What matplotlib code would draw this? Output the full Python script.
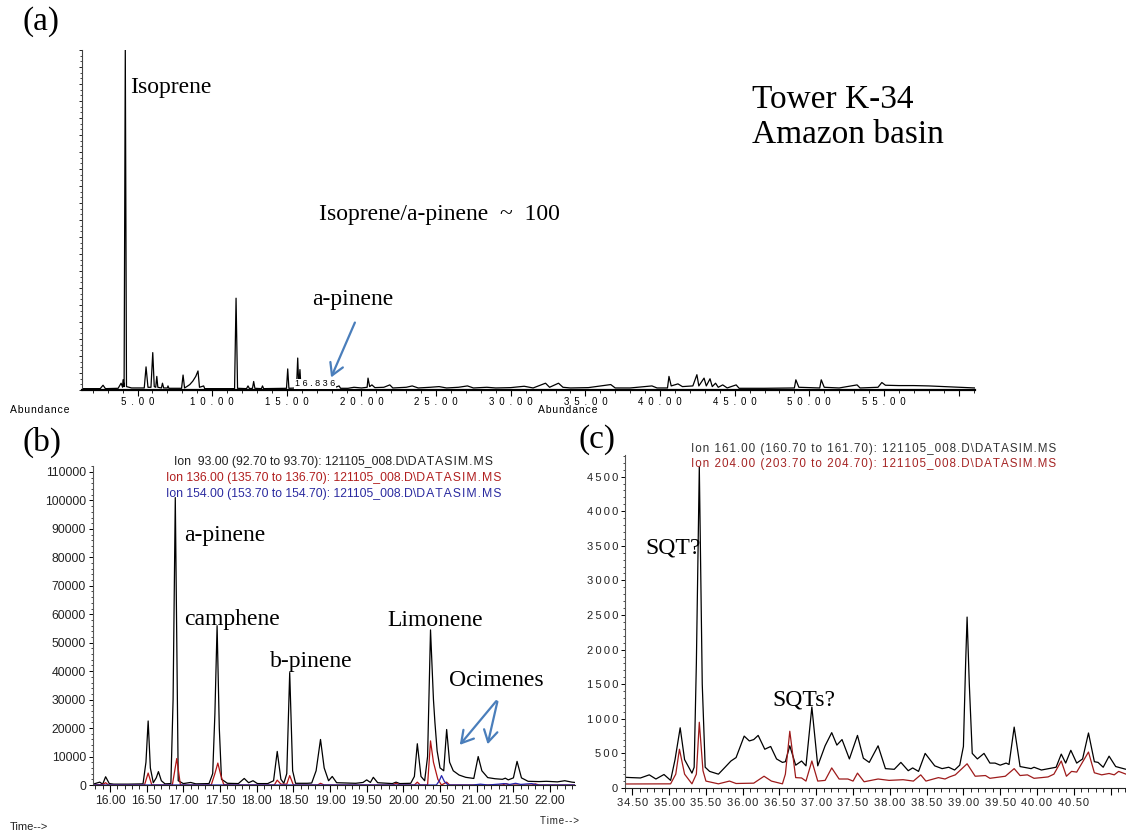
import matplotlib
matplotlib.use('Agg')
import matplotlib.pyplot as plt
from matplotlib import font_manager
from matplotlib.ticker import MultipleLocator, FuncFormatter
from matplotlib.patches import FancyArrowPatch

# ---- data ----
# (a) total ion chromatogram, abundance relative to the isoprene peak
a_time = [1.28, 2.5, 2.69, 2.85, 3.7, 3.9, 4.0, 4.03, 4.1, 4.18, 4.26, 4.6, 5.45, 5.57, 5.7,
          5.9, 6.02, 6.12, 6.22, 6.29, 6.36, 6.6, 6.67, 6.75, 7.0, 7.04, 7.1, 7.95, 8.05, 8.15,
          8.3, 8.5, 8.7, 8.9, 9.05, 9.15, 9.43, 9.5, 11.5, 11.6, 11.7, 12.3, 12.4, 12.5, 12.7,
          12.78, 12.86, 13.3, 13.37, 13.45, 14.98, 15.06, 15.14, 15.65, 15.73, 15.8, 15.88, 15.95,
          16.84, 16.9, 17.5, 17.6, 17.7, 18.2, 18.5, 18.6, 19.1, 19.5, 20.0, 20.38, 20.44, 20.55,
          20.7, 20.9, 21.5, 21.9, 22.1, 23.0, 23.4, 23.8, 24.6, 25.2, 25.7, 26.5, 27.1, 27.5,
          28.4, 29.0, 30.0, 30.9, 31.5, 32.33, 32.6, 33.2, 33.5, 34.0, 35.2, 36.7, 37.0, 38.0,
          39.46, 39.8, 40.5, 40.6, 40.75, 41.2, 41.5, 42.2, 42.47, 42.6, 42.95, 43.1, 43.35, 43.5,
          43.72, 43.9, 44.2, 44.5, 45.1, 45.3, 47.0, 49.0, 49.1, 49.3, 50.7, 50.8, 51.0, 52.0,
          53.2, 53.4, 54.6, 54.86, 55.1, 56.0, 57.0, 58.0, 59.0, 60.0, 61.1]
a_abund = [0.004, 0.004, 0.014, 0.004, 0.005, 0.02, 0.008, 0.03, 0.01, 1.0, 0.01, 0.006, 0.006, 0.068, 0.008,
           0.008, 0.11, 0.01, 0.008, 0.04, 0.008, 0.006, 0.02, 0.006, 0.006, 0.012, 0.005, 0.005, 0.044, 0.006,
           0.01, 0.016, 0.026, 0.04, 0.056, 0.008, 0.012, 0.004, 0.004, 0.27, 0.005, 0.004, 0.012, 0.004, 0.005,
           0.025, 0.005, 0.004, 0.012, 0.004, 0.005, 0.062, 0.005, 0.006, 0.094, 0.01, 0.06, 0.006,
           0.012, 0.005, 0.006, 0.01, 0.005, 0.007, 0.012, 0.005, 0.005, 0.008, 0.006, 0.008, 0.035, 0.01,
           0.015, 0.007, 0.008, 0.015, 0.006, 0.008, 0.012, 0.006, 0.008, 0.01, 0.006, 0.008, 0.012, 0.006,
           0.008, 0.006, 0.007, 0.011, 0.006, 0.02, 0.008, 0.02, 0.008, 0.006, 0.007, 0.016, 0.006, 0.006,
           0.012, 0.006, 0.006, 0.04, 0.012, 0.018, 0.01, 0.012, 0.045, 0.012, 0.035, 0.012, 0.033, 0.01,
           0.02, 0.008, 0.015, 0.006, 0.015, 0.005, 0.005, 0.006, 0.03, 0.008, 0.006, 0.03, 0.008, 0.006,
           0.015, 0.006, 0.008, 0.022, 0.014, 0.013, 0.013, 0.012, 0.01, 0.008, 0.006]

# (b) extracted ion chromatograms, monoterpene window
b_ion93_time = [15.77, 15.86, 15.90, 15.94, 15.99, 16.05, 16.25, 16.45, 16.49, 16.52, 16.55, 16.59, 16.63,
                16.66, 16.70, 16.75, 16.83, 16.86, 16.89, 16.93, 17.00, 17.10, 17.17, 17.35, 17.40, 17.43,
                17.46, 17.49, 17.52, 17.55, 17.60, 17.75, 17.83, 17.89, 17.95, 18.01, 18.15, 18.23, 18.28,
                18.33, 18.37, 18.41, 18.45, 18.49, 18.53, 18.69, 18.75, 18.81, 18.87, 18.92, 18.98, 19.03,
                19.09, 19.35, 19.45, 19.50, 19.55, 19.59, 19.65, 19.85, 19.90, 19.95, 20.10, 20.15, 20.19, 20.24,
                20.29, 20.33, 20.37, 20.41, 20.43, 20.46, 20.50, 20.55, 20.59, 20.63, 20.68, 20.76, 20.85,
                20.96, 21.02, 21.07, 21.15, 21.25, 21.35, 21.39, 21.43, 21.50, 21.55, 21.61, 21.70, 21.85,
                21.95, 22.10, 22.20, 22.30, 22.34]
b_ion93 = [300, 1000, 300, 2900, 500, 300, 300, 400, 8000, 22500, 6000, 800, 2500,
           4700, 1500, 400, 500, 30000, 101000, 1500, 500, 900, 400, 500, 4000, 25000,
           56000, 20000, 2000, 1500, 600, 500, 2300, 800, 1500, 500, 500, 1500, 11800,
           2000, 600, 4000, 39500, 5000, 600, 600, 700, 5000, 16000, 6000, 1500, 3000,
           800, 600, 900, 1800, 900, 2700, 800, 500, 1000, 500, 600, 3000, 14500, 3000,
           1500, 10000, 54500, 30000, 22000, 12000, 6000, 5000, 19500, 8000, 5000, 3500, 2700,
           2300, 10000, 5000, 2600, 2200, 2000, 2400, 1800, 2500, 8300, 2500, 1300, 1200,
           1300, 1100, 1500, 1000, 900]

b_ion136_time = [15.77, 15.90, 15.94, 15.98, 16.47, 16.52, 16.57, 16.85, 16.91, 16.96, 17.38, 17.43,
                 17.47, 17.51, 17.55, 17.65, 18.24, 18.28, 18.33, 18.41, 18.45, 18.50, 18.83, 18.87,
                 18.92, 19.85, 19.90, 19.95, 20.15, 20.19, 20.23, 20.33, 20.37, 20.41, 20.43, 20.47,
                 20.52, 20.59, 20.63, 21.35, 21.40, 21.45, 21.75, 21.80, 21.85, 22.34]
b_ion136 = [0, 200, 800, 0, 0, 4200, 0, 0, 9300, 0, 0, 4000,
            7700, 3500, 200, 0, 0, 1700, 300, 300, 3300, 0, 0, 600,
            0, 0, 600, 0, 0, 1000, 0, 0, 15500, 8000, 6000, 2000,
            0, 1000, 0, 0, 500, 0, 0, 400, 0, 0]

b_ion154_time = [15.77, 20.45, 20.49, 20.52, 20.56, 20.61, 20.95, 21.05, 21.15, 21.30, 21.37, 21.45,
                 21.53, 21.60, 21.75, 21.83, 22.34]
b_ion154 = [0, 0, 1500, 3300, 1200, 0, 0, 300, 0, 300, 500, 200,
            600, 200, 500, 0, 0]

# (c) extracted ion chromatograms, sesquiterpene window
c_ion161_time = [34.39, 34.49, 34.61, 34.73, 34.82, 34.93, 35.02, 35.08, 35.15, 35.21, 35.31, 35.34,
                 35.37, 35.41, 35.45, 35.49, 35.55, 35.67, 35.76, 35.84, 35.91, 36.02, 36.09, 36.15,
                 36.21, 36.3, 36.38, 36.46, 36.54, 36.58, 36.64, 36.72, 36.8, 36.86, 36.94, 37.02,
                 37.12, 37.21, 37.28, 37.35, 37.45, 37.56, 37.64, 37.72, 37.84, 37.94, 38.06, 38.15,
                 38.25, 38.31, 38.39, 38.48, 38.61, 38.71, 38.8, 38.88, 38.95, 39.0, 39.03, 39.05,
                 39.08, 39.12, 39.19, 39.28, 39.36, 39.43, 39.5, 39.58, 39.62, 39.69, 39.77, 39.92,
                 39.96, 40.06, 40.21, 40.26, 40.33, 40.39, 40.46, 40.54, 40.62, 40.7, 40.78, 40.83,
                 40.9, 40.98, 41.07, 41.21]
c_ion161 = [155, 150, 145, 190, 130, 195, 110, 410, 870, 410, 215, 300,
            1800, 4640, 1500, 300, 240, 200, 300, 390, 440, 750, 680, 700,
            760, 560, 600, 420, 370, 380, 610, 330, 390, 320, 1170, 320,
            610, 800, 620, 700, 420, 760, 430, 370, 610, 280, 270, 370,
            250, 290, 240, 500, 320, 280, 300, 260, 330, 600, 1800, 2470,
            1500, 500, 420, 500, 360, 360, 330, 360, 340, 880, 310, 280,
            300, 260, 290, 300, 490, 360, 545, 360, 420, 795, 380, 370,
            300, 460, 310, 270]

c_ion204_time = [34.39, 35.02, 35.09, 35.14, 35.21, 35.31, 35.37, 35.41, 35.46, 35.5, 35.67, 35.82,
                 35.91, 36.15, 36.29, 36.39, 36.54, 36.58, 36.64, 36.72, 36.8, 36.86, 36.94, 37.02,
                 37.12, 37.21, 37.31, 37.43, 37.5, 37.56, 37.65, 37.84, 37.99, 38.18, 38.32, 38.42,
                 38.49, 38.66, 38.75, 38.81, 38.89, 39.05, 39.16, 39.3, 39.36, 39.5, 39.57, 39.69,
                 39.77, 39.87, 39.96, 40.06, 40.15, 40.23, 40.33, 40.4, 40.47, 40.54, 40.7, 40.78,
                 40.88, 40.98, 41.05, 41.11, 41.21]
c_ion204 = [58, 60, 200, 560, 200, 60, 200, 950, 250, 100, 60, 100,
            65, 70, 170, 100, 60, 200, 820, 150, 145, 100, 390, 100,
            110, 290, 130, 130, 100, 215, 90, 130, 110, 120, 100, 190,
            100, 150, 130, 160, 190, 350, 170, 180, 140, 160, 170, 280,
            180, 190, 140, 150, 160, 200, 390, 170, 240, 230, 520, 220,
            190, 210, 190, 240, 200]

# ---- fonts ----
names = {f.name for f in font_manager.fontManager.ttflist}
NARROW = 'Liberation Sans Narrow' if 'Liberation Sans Narrow' in names else 'Liberation Sans'
SANS = ['Liberation Sans', 'DejaVu Sans']
NAR = [NARROW, 'DejaVu Sans']
SERIF = 'Liberation Serif'
HAIR = '\u200a'


def spaced(s, sep=HAIR):
    return sep.join(s)


W, H = 1126, 835
fig = plt.figure(figsize=(W / 100, H / 100), dpi=100)


def fx(x):
    return x / W


def fy(y):
    return 1 - y / H


def box(left, right, top, bottom):
    return [fx(left), fy(bottom), fx(right) - fx(left), fy(top) - fy(bottom)]


BLUE_ARROW = '#4a7ebb'

# ---- (a) ----
ax_a = fig.add_axes(box(82, 975, 50, 390))
ax_a.plot(a_time, a_abund, color='black', lw=0.9)
ax_a.set_xlim(1.28, 61.1)
ax_a.set_ylim(0, 1.0)
for s in ['top', 'right']:
    ax_a.spines[s].set_visible(False)
ax_a.spines['bottom'].set_linewidth(1.6)
ax_a.spines['left'].set_color('#444444')
ax_a.xaxis.set_major_locator(MultipleLocator(5))
ax_a.xaxis.set_minor_locator(MultipleLocator(1))
ax_a.xaxis.set_major_formatter(FuncFormatter(
    lambda v, p: spaced('%.2f' % v, '\u2002') if 0 < v < 58 else ''))
ax_a.tick_params(axis='x', which='major', length=4, width=0.8, labelsize=7, pad=1)
ax_a.tick_params(axis='x', which='minor', length=2.5, width=0.6)
for lab in ax_a.get_xticklabels():
    lab.set_family(SANS)
ax_a.yaxis.set_major_locator(MultipleLocator(0.05))
ax_a.yaxis.set_minor_locator(MultipleLocator(1 / 60))
ax_a.tick_params(axis='y', which='major', length=2.5, width=0.6, labelleft=False)
ax_a.tick_params(axis='y', which='minor', length=1.2, width=0.5)

fig.text(fx(22), fy(22), '(a)', family=SERIF, fontsize=24, va='center')
fig.text(fx(130), fy(88), 'Isoprene', family=SERIF, fontsize=17, va='center')
fig.text(fx(752), fy(100), 'Tower K-34', family=SERIF, fontsize=24, va='center')
fig.text(fx(752), fy(135), 'Amazon basin', family=SERIF, fontsize=24, va='center')
fig.text(fx(319), fy(215), 'Isoprene/a-pinene  ~  100', family=SERIF, fontsize=17, va='center')
fig.text(fx(312), fy(299), 'a-pinene', family=SERIF, fontsize=17, va='center')
fig.text(fx(315), fy(384), spaced('16.836', ' '), family=SANS, fontsize=6.5,
         ha='center', va='center', bbox=dict(fc='white', ec='none', pad=0.3))
fig.add_artist(FancyArrowPatch((fx(356), fy(320)), (fx(330), fy(380)), transform=fig.transFigure,
                               arrowstyle='->,head_length=0.6,head_width=0.35', mutation_scale=14,
                               color=BLUE_ARROW, lw=1.6))

fig.text(fx(10), fy(410), spaced('Abundance'), family=SANS, fontsize=7.5, va='center')
fig.text(fx(538), fy(410), spaced('Abundance'), family=SANS, fontsize=7.5, va='center')

# ---- (b) ----
ax_b = fig.add_axes(box(93, 575, 466, 785))
ax_b.plot(b_ion93_time, b_ion93, color='black', lw=0.9)
ax_b.plot(b_ion136_time, b_ion136, color='#b01414', lw=0.9)
ax_b.plot(b_ion154_time, b_ion154, color='#2424b0', lw=0.9)
ax_b.set_xlim(15.768, 22.34)
ax_b.set_ylim(0, 112100)

# ---- (c) ----
ax_c = fig.add_axes(box(625, 1126, 455, 788))
ax_c.plot(c_ion161_time, c_ion161, color='black', lw=0.9)
ax_c.plot(c_ion204_time, c_ion204, color='#9e1b1b', lw=0.9)
ax_c.set_xlim(34.40, 41.21)
ax_c.set_ylim(0, 4812)

for ax in (ax_b, ax_c):
    for s in ['top', 'right']:
        ax.spines[s].set_visible(False)
    ax.spines['left'].set_color('#555555')
    ax.spines['bottom'].set_color('#222222')
    ax.xaxis.set_major_locator(MultipleLocator(0.5))
    ax.xaxis.set_minor_locator(MultipleLocator(0.1))
    ax.tick_params(axis='x', which='major', length=5, width=0.8, pad=2)
    ax.tick_params(axis='x', which='minor', length=3, width=0.6)
    ax.tick_params(axis='y', which='major', length=3, width=0.7, pad=2)
    ax.tick_params(axis='y', which='minor', length=1.3, width=0.5)

ax_b.yaxis.set_major_locator(MultipleLocator(10000))
ax_b.yaxis.set_minor_locator(MultipleLocator(2000))
ax_b.xaxis.set_major_formatter(FuncFormatter(lambda v, p: '%.2f' % v))
ax_b.yaxis.set_major_formatter(FuncFormatter(lambda v, p: '%d' % v))
for lab in ax_b.get_xticklabels() + ax_b.get_yticklabels():
    lab.set_family(NAR)
    lab.set_fontsize(10.5 if NARROW != 'Liberation Sans' else 8.8)
    lab.set_color('#222222')

ax_c.yaxis.set_major_locator(MultipleLocator(500))
ax_c.yaxis.set_minor_locator(MultipleLocator(100))
ax_c.xaxis.set_major_formatter(FuncFormatter(lambda v, p: spaced('%.2f' % v) if v < 40.8 else ''))
ax_c.yaxis.set_major_formatter(FuncFormatter(lambda v, p: spaced('%d' % v, '\u2009')))
for lab in ax_c.get_xticklabels() + ax_c.get_yticklabels():
    lab.set_family(SANS)
    lab.set_fontsize(8)
    lab.set_color('#222222')

fig.text(fx(22), fy(442), '(b)', family=SERIF, fontsize=24, va='center')
fig.text(fx(578), fy(440), '(c)', family=SERIF, fontsize=24, va='center')

hsize = 10.5 if NARROW != 'Liberation Sans' else 8.8
fig.text(fx(334), fy(462), 'Ion  93.00 (92.70 to 93.70): 121105_008.D\\' + spaced('DATASIM.MS'),
         family=NAR, fontsize=hsize, ha='center', va='center', color='#222222')
fig.text(fx(334), fy(478), 'Ion 136.00 (135.70 to 136.70): 121105_008.D\\' + spaced('DATASIM.MS'),
         family=NAR, fontsize=hsize, ha='center', va='center', color='#b01f1f')
fig.text(fx(334), fy(494), 'Ion 154.00 (153.70 to 154.70): 121105_008.D\\' + spaced('DATASIM.MS'),
         family=NAR, fontsize=hsize, ha='center', va='center', color='#2b2ba0')
fig.text(fx(874), fy(449), spaced('Ion 161.00 (160.70 to 161.70): 121105_008.D\\DATASIM.MS'),
         family=SANS, fontsize=8.4, ha='center', va='center', color='#333333')
fig.text(fx(874), fy(464), spaced('Ion 204.00 (203.70 to 204.70): 121105_008.D\\DATASIM.MS'),
         family=SANS, fontsize=8.4, ha='center', va='center', color='#a52424')

for x, y, s in [(184, 536, 'a-pinene'), (184, 620, 'camphene'), (270, 662, 'b-pinene'),
                (387, 620, 'Limonene'), (449, 680, 'Ocimenes'), (645, 548, 'SQT?'), (772, 700, 'SQTs?')]:
    fig.text(fx(x), fy(y), s, family=SERIF, fontsize=17, va='center')

for end in [(458, 747), (487, 747)]:
    fig.add_artist(FancyArrowPatch((fx(498), fy(699)), (fx(end[0]), fy(end[1])), transform=fig.transFigure,
                                   arrowstyle='->,head_length=0.6,head_width=0.35', mutation_scale=14,
                                   color=BLUE_ARROW, lw=1.6))

fig.text(fx(10), fy(827), 'Time-->', family=SANS, fontsize=8, va='center', color='#222222')
fig.text(fx(540), fy(821), spaced('Time-->'), family=SANS, fontsize=7, va='center', color='#222222')

fig.savefig('out.png', dpi=100)
